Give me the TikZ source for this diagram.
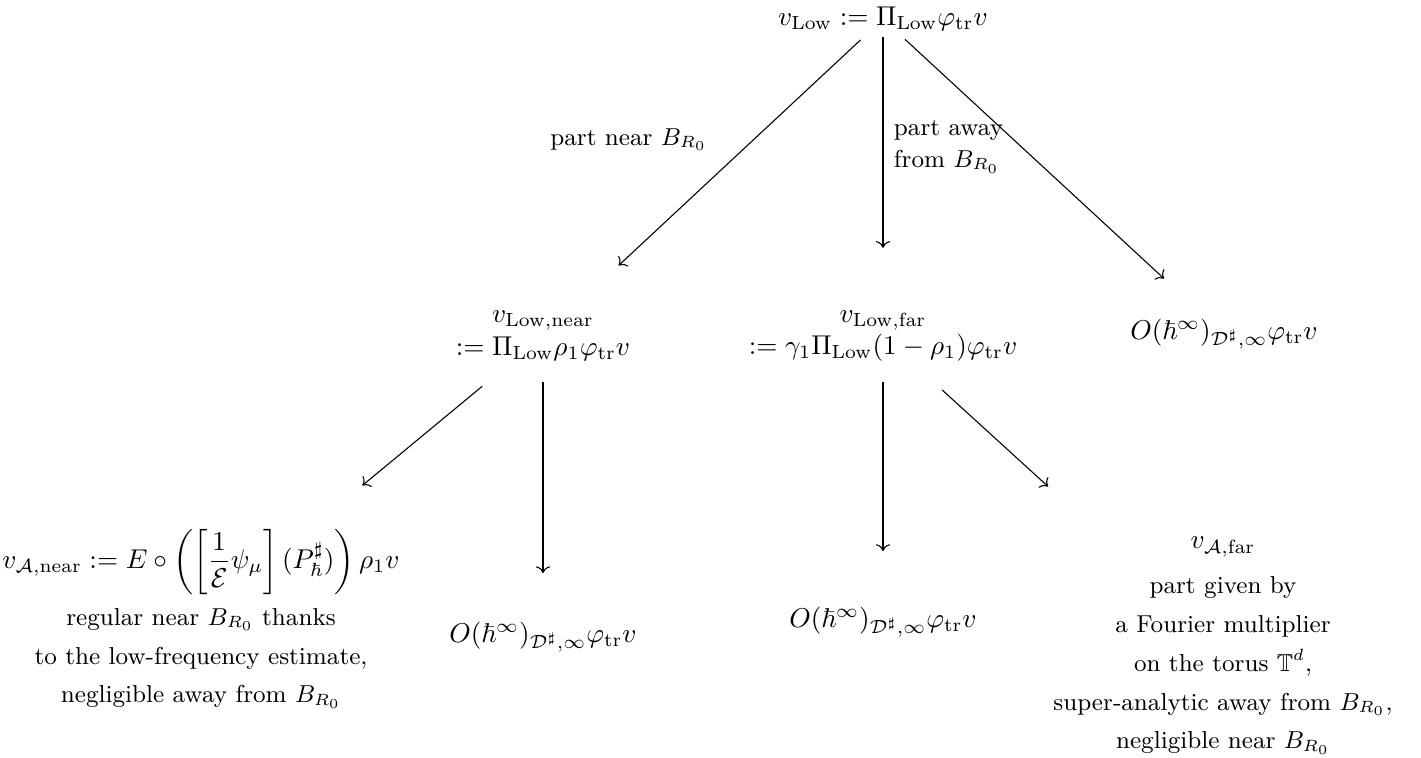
\documentclass[tikz,border=0pt]{standalone}
\usepackage{amsmath,amssymb,mathtools}
\usepackage{tikz}
\usetikzlibrary{arrows.meta}
\newcommand{\Lw}{\mathrm{Low}}
\newcommand{\trc}{\mathrm{tr}}
\tikzset{
  mathnode/.style={inner sep=2pt,align=center,font=\fontsize{10}{12}\selectfont},
  leafnode/.style={inner sep=2pt,align=center,font=\fontsize{9}{14.3}\selectfont},
  edgelabel/.style={inner sep=2pt,align=left,font=\fontsize{9}{11.5}\selectfont},
  treearrow/.style={-{To},line width=0.4pt,draw=black}
}

\begin{document}
\begin{tikzpicture}[x=0.3676pt,y=-0.3676pt]
  \useasboundingbox (0,0) rectangle (1421,758);

  \node[mathnode] (root) at (883,19) {$v_{\Lw} := \Pi_{\Lw}\varphi_{\trc}v$};

  \node[mathnode] (near) at (543,336) {$v_{\Lw,\mathrm{near}}$\\$:= \Pi_{\Lw}\rho_1\varphi_{\trc}v$};
  \node[mathnode] (far) at (883,336) {$v_{\Lw,\mathrm{far}}$\\$:= \gamma_1\Pi_{\Lw}(1-\rho_1)\varphi_{\trc}v$};
  \node[mathnode] (negR) at (1224,334) {$O(\hbar^{\infty})_{\mathcal{D}^{\sharp},\infty}\varphi_{\trc}v$};

  \node[leafnode] (anear) at (201,619) {{\normalsize$v_{\mathcal{A},\mathrm{near}} := E\circ\left(\left[\dfrac{1}{\mathcal{E}}\psi_{\mu}\right](P^{\sharp}_{\hbar})\right)\rho_1 v$}\\[4pt]
    regular near $B_{R_0}$ thanks\\to the low-frequency estimate,\\negligible away from $B_{R_0}$};
  \node[mathnode] (negL) at (543,637) {$O(\hbar^{\infty})_{\mathcal{D}^{\sharp},\infty}\varphi_{\trc}v$};
  \node[mathnode] (negM) at (883,622) {$O(\hbar^{\infty})_{\mathcal{D}^{\sharp},\infty}\varphi_{\trc}v$};
  \node[leafnode] (afar) at (1223,646) {{\normalsize$v_{\mathcal{A},\mathrm{far}}$}\\[2pt]
    part given by\\a Fourier multiplier\\on the torus $\mathbb{T}^d$,\\super-analytic away from $B_{R_0}$,\\negligible near $B_{R_0}$};

  \node[edgelabel,anchor=base east] (lnear) at (713,145) {part near $B_{R_0}$};
  \node[edgelabel,anchor=west] (laway) at (888,147) {part away\\from $B_{R_0}$};

  \draw[treearrow,shorten <=11.3pt,shorten >=38pt] (root.center) -- (near.center);
  \draw[treearrow,shorten <=6.6pt,shorten >=32.4pt] (root.center) -- (far.center);
  \draw[treearrow,shorten <=11pt,shorten >=30pt] (root.center) -- (negR.center);
  \draw[treearrow,shorten <=29pt,shorten >=77pt] (near.center) -- (anear.center);
  \draw[treearrow,shorten <=16.9pt,shorten >=23.5pt] (near.center) -- (negL.center);
  \draw[treearrow,shorten <=16.9pt,shorten >=26.1pt] (far.center) -- (negM.center);
  \draw[treearrow,shorten <=29.5pt,shorten >=87pt] (far.center) -- (afar.center);
\end{tikzpicture}
\end{document}
